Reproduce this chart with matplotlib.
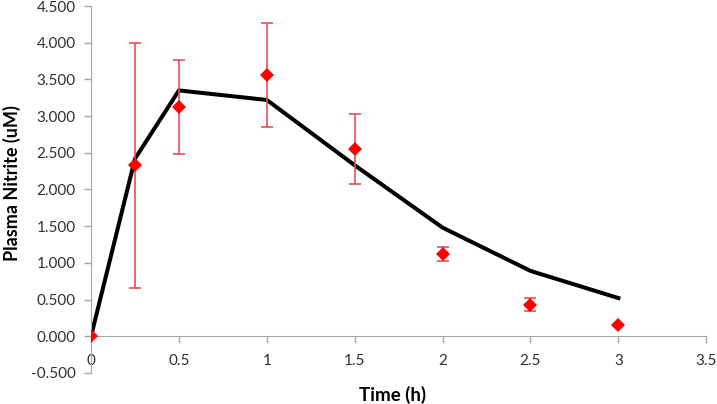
import numpy as np
import matplotlib
matplotlib.use("Agg")
import matplotlib.pyplot as plt

plt.rcParams['font.family'] = ['Lato', 'DejaVu Sans']

# measured plasma nitrite (mean, error)
t_obs = [0, 0.25, 0.5, 1, 1.5, 2, 2.5, 3]
c_obs = [0.0, 2.33, 3.12, 3.56, 2.55, 1.12, 0.43, 0.15]
c_err = [0.0, 1.67, 0.64, 0.71, 0.48, 0.10, 0.09, 0.0]

# model curve
t_mod = [0, 0.25, 0.5, 1, 1.5, 2, 2.5, 3]
c_mod = [0.0, 2.42, 3.35, 3.22, 2.33, 1.48, 0.89, 0.52]

xticks = [0, 0.5, 1, 1.5, 2, 2.5, 3, 3.5]
yticks = [-0.5, 0, 0.5, 1, 1.5, 2, 2.5, 3, 3.5, 4, 4.5]

fig = plt.figure(figsize=(7.17, 4.04), dpi=100)
ax = fig.add_axes([0.127, 0.077, 0.858, 0.908])

ax.plot(t_mod, c_mod, color='black', lw=2.9, zorder=2, solid_joinstyle='miter')
ax.errorbar(t_obs, c_obs, yerr=c_err, fmt='none', ecolor='#e0505c', elinewidth=1.2,
            capsize=4, capthick=1.2, zorder=3)
ax.plot(t_obs, c_obs, 'D', color='#ff0000', markersize=7.5, markeredgewidth=0, zorder=4)

ax.set_xlim(0, 3.5)
ax.set_ylim(-0.5, 4.5)
ax.set_xticks(xticks)
ax.set_xticklabels(['0', '0.5', '1', '1.5', '2', '2.5', '3', '3.5'])
ax.set_yticks(yticks)
ax.set_yticklabels(['%.3f' % v for v in yticks])

for s in ['top', 'right']:
    ax.spines[s].set_visible(False)
ax.spines['bottom'].set_position(('data', 0))
ax.spines['bottom'].set_color('#a6a6a6')
ax.spines['left'].set_color('#a6a6a6')
ax.tick_params(axis='both', colors='#a6a6a6', labelcolor='#303030', labelsize=11, length=5, width=1)
ax.tick_params(axis='x', pad=8)
ax.tick_params(axis='y', pad=6)

fig.text(0.017, 0.547, 'Plasma Nitrite (uM)', fontsize=13, fontweight='bold',
         rotation=90, ha='center', va='center')
fig.text(0.548, 0.022, 'Time (h)', fontsize=13.5, fontweight='bold', ha='center', va='center')

fig.savefig('out.png', dpi=100)
